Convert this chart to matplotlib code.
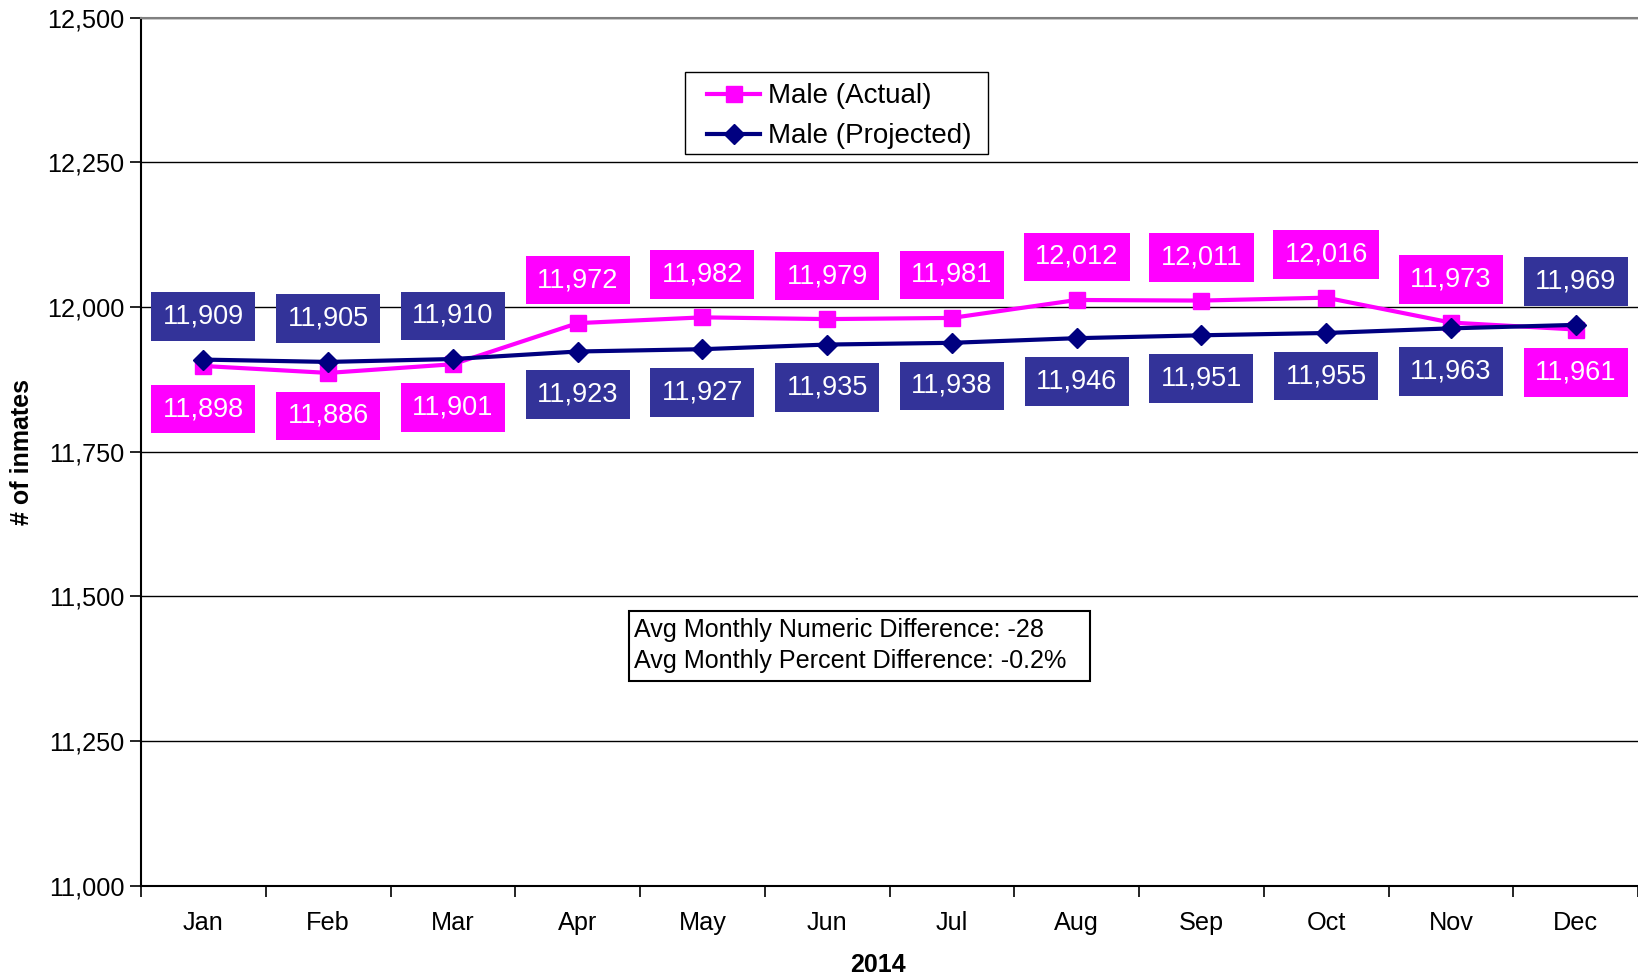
import matplotlib.pyplot as plt
import matplotlib.patches as mpatches
import numpy as np

plt.rcParams['font.family'] = ['Liberation Sans', 'DejaVu Sans']

# data
months = ['Jan', 'Feb', 'Mar', 'Apr', 'May', 'Jun', 'Jul', 'Aug', 'Sep', 'Oct', 'Nov', 'Dec']
actual = [11898, 11886, 11901, 11972, 11982, 11979, 11981, 12012, 12011, 12016, 11973, 11961]
projected = [11909, 11905, 11910, 11923, 11927, 11935, 11938, 11946, 11951, 11955, 11963, 11969]
y_ticks = [11000, 11250, 11500, 11750, 12000, 12250, 12500]
note_lines = ['Avg Monthly Numeric Difference: -28', 'Avg Monthly Percent Difference: -0.2%']

PINK = '#FF00FF'
NAVY = '#000080'
NAVY_BOX = '#333399'

fig = plt.figure(figsize=(16.38, 9.8), dpi=100)
ax = fig.add_axes([0.0861, 0.0962, 0.9139, 0.8859])

x = np.arange(len(months))
ax.plot(x, actual, color=PINK, lw=3, marker='s', ms=12, label='Male (Actual)', zorder=3)
ax.plot(x, projected, color=NAVY, lw=3, marker='D', ms=10, label='Male (Projected)', zorder=4)

# data labels: put each label on the side away from the other series
for i in range(len(months)):
    a_up = actual[i] >= projected[i]
    off = 31
    ax.annotate(f'{actual[i]:,}', (x[i], actual[i]), xytext=(0, off if a_up else -off),
                textcoords='offset points', ha='center', va='center', color='white',
                fontsize=19.5, zorder=5,
                bbox=dict(boxstyle='square,pad=0.42', fc=PINK, ec='none'))
    ax.annotate(f'{projected[i]:,}', (x[i], projected[i]), xytext=(0, -off if a_up else off),
                textcoords='offset points', ha='center', va='center', color='white',
                fontsize=19.5, zorder=5,
                bbox=dict(boxstyle='square,pad=0.42', fc=NAVY_BOX, ec='none'))

ax.set_xlim(-0.5, len(months) - 0.5)
ax.set_ylim(11000, 12500)
ax.set_yticks(y_ticks)
ax.set_yticklabels([f'{v:,}' for v in y_ticks], fontsize=18.2)
ax.set_xticks(x)
ax.set_xticklabels(months, fontsize=18.2)
ax.set_xticks(np.arange(-0.5, len(months)), minor=True)
ax.tick_params(axis='x', which='major', length=0, pad=18)
ax.tick_params(axis='x', which='minor', length=8, width=1.2, direction='out')
ax.tick_params(axis='y', length=8, width=1.2, direction='out', pad=4)

ax.grid(axis='y', color='black', lw=1)
ax.set_axisbelow(True)
for s in ['left', 'bottom']:
    ax.spines[s].set_linewidth(1.5)
ax.spines['right'].set_visible(False)
ax.spines['top'].set_color('#808080')
ax.spines['top'].set_linewidth(1.5)

ax.set_xlabel('2014', fontsize=18, fontweight='bold', labelpad=13)
ax.xaxis.label.set_x(0.492)
ax.set_ylabel('# of inmates', fontsize=18, fontweight='bold', labelpad=9)

# legend, with its frame drawn as a separate box
ax.add_patch(mpatches.Rectangle((0.3634, 0.8428), 0.2024, 0.0944, transform=ax.transAxes,
                                fc='white', ec='black', lw=1, zorder=6))
leg = ax.legend(loc='upper left', bbox_to_anchor=(0.3708, 0.937), borderaxespad=0,
                fontsize=20, frameon=False, handlelength=1.9,
                borderpad=0.4, labelspacing=0.5, handletextpad=0.3)
leg.set_zorder(7)

# note box
ax.add_patch(mpatches.Rectangle((0.326, 0.2358), 0.308, 0.0806, transform=ax.transAxes,
                                fc='white', ec='black', lw=1.5, zorder=2))
ax.text(0.3295, 0.308, '\n'.join(note_lines), transform=ax.transAxes, ha='left', va='top',
        fontsize=18.1, linespacing=1.35, zorder=3)

fig.savefig('out.png', dpi=100)
